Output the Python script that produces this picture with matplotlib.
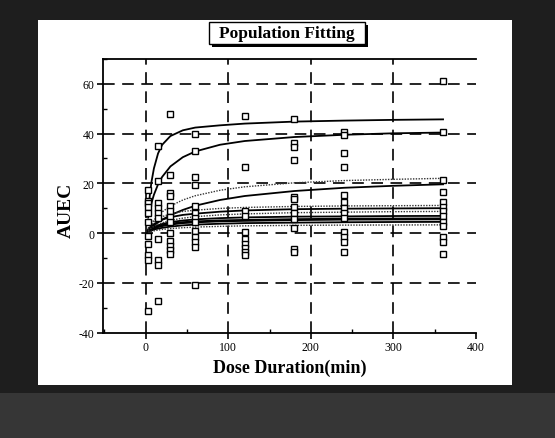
import matplotlib
matplotlib.use('Agg')
import matplotlib.pyplot as plt
from matplotlib.patches import Rectangle
from matplotlib.ticker import MultipleLocator

plt.rcParams['axes.unicode_minus'] = False

# ---------------- data ----------------
# observed AUEC at each dose duration (min)
obs_times = [3, 15, 30, 60, 120, 180, 240, 360]
auec_t3 = [17.5, 13, 12, 10.5, 8, 4.5, -1, -4.5, -9, -11, -31.5]
auec_t15 = [35, 21, 12, 10, 8, 6, -2.5, -11, -13, -27.5]
auec_t30 = [48, 23.5, 16, 15, 11, 9, 6.5, 4.5, 0, -3, -5, -7, -8.5]
auec_t60 = [40, 33, 22.5, 19.5, 11, 8, 6, 4.5, 1, -1.5, -3.5, -5.5, -21]
auec_t120 = [47, 26.5, 9, 7, 0.5, -2.5, -4.5, -6, -7.5, -9]
auec_t180 = [46, 36, 34.5, 29.5, 14.5, 13.5, 10.5, 8, 5.5, 2, -6.5, -7.5]
auec_t240 = [40.5, 39.5, 32, 26.5, 15.5, 12.5, 10, 8, 6, 0.5, -1.5, -3.5, -7.5]
auec_t360 = [61, 40.5, 21.5, 16.5, 12.5, 10.5, 9, 7, 4.5, 3, -1.5, -3.5, -8.5]
obs_auec = [auec_t3, auec_t15, auec_t30, auec_t60, auec_t120, auec_t180, auec_t240, auec_t360]

# fitted population curves, read at these times
fit_t = [3, 5, 7, 10, 15, 20, 30, 45, 60, 90, 120, 180, 240, 300, 360]
fit_a = [9, 15, 20.5, 26, 32, 35.5, 39, 41.3, 42.4, 43.3, 44, 44.8, 45.2, 45.5, 45.7]
fit_b = [6.2, 9.4, 12.1, 15.4, 19.6, 22.6, 26.8, 30.5, 32.8, 35.5, 37, 38.6, 39.5, 40.1, 40.4]
fit_c = [1.0, 1.6, 2.2, 3.0, 4.3, 5.4, 7.2, 9.3, 11, 13.3, 14.9, 16.9, 18.2, 19.0, 19.6]
fit_d = [1.8, 2.9, 3.9, 5.2, 7.0, 8.5, 10.9, 13.3, 15.0, 17.2, 18.6, 20.2, 21.1, 21.6, 22.0]
fit_e = [1.9, 2.9, 3.6, 4.6, 5.7, 6.6, 7.7, 8.7, 9.2, 9.9, 10.3, 10.7, 10.9, 11.0, 11.1]
fit_f = [1.5, 2.2, 2.9, 3.6, 4.6, 5.4, 6.4, 7.3, 7.8, 8.6, 9.1, 9.6, 9.8, 9.9, 10.0]
fit_g = [1.0, 1.6, 2.1, 2.7, 3.5, 4.1, 5.1, 6.0, 6.6, 7.3, 7.7, 8.2, 8.4, 8.6, 8.7]
fit_h = [0.95, 1.5, 1.9, 2.4, 3.1, 3.65, 4.4, 5.05, 5.5, 6.0, 6.3, 6.6, 6.7, 6.85, 6.9]
fit_i = [0.8, 1.2, 1.6, 2.0, 2.6, 3.0, 3.6, 4.2, 4.5, 4.9, 5.1, 5.4, 5.6, 5.65, 5.7]
fit_j = [0.5, 0.8, 1.05, 1.4, 1.8, 2.1, 2.6, 3.1, 3.4, 3.75, 4.0, 4.2, 4.35, 4.45, 4.5]
fit_k = [0.33, 0.5, 0.7, 0.9, 1.2, 1.45, 1.8, 2.15, 2.4, 2.7, 2.9, 3.1, 3.2, 3.25, 3.3]

solid_fits = [fit_a, fit_b, fit_c, fit_f, fit_h, fit_j]
thick_fits = [fit_i]
dotted_fits = [fit_d, fit_e, fit_g, fit_k]

x_ticks = [0, 100, 200, 300, 400]
y_ticks = [-40, -20, 0, 20, 40, 60]
title = 'Population Fitting'
x_label = 'Dose Duration(min)'
y_label = 'AUEC'

# ---------------- figure ----------------
W, H = 555, 439
SERIF = ['Liberation Serif', 'DejaVu Serif']
fig = plt.figure(figsize=(W / 100, H / 100), dpi=100)
fig.patch.set_facecolor('#1e1e1e')

bg = fig.add_axes([0, 0, 1, 1])
bg.set_xlim(0, W)
bg.set_ylim(H, 0)
bg.axis('off')
bg.add_patch(Rectangle((0, 394), W, 45, facecolor='#363636', edgecolor='none'))
bg.add_patch(Rectangle((38, 21), 474, 365, facecolor='white', edgecolor='none'))
# title box with shadow
bg.add_patch(Rectangle((212, 26), 156, 22, facecolor='black', edgecolor='none'))
bg.add_patch(Rectangle((209, 23), 156, 22, facecolor='white', edgecolor='black', lw=1.0))
bg.text(287, 34.5, title, ha='center', va='center', fontsize=12.5,
        fontweight='bold', family=SERIF)
bg.text(290, 368, x_label, ha='center', va='center', fontsize=13,
        fontweight='bold', family=SERIF)
bg.text(66, 210, y_label, ha='center', va='center', fontsize=14, rotation=90,
        fontweight='bold', family=SERIF)

ax = fig.add_axes([102.7 / W, 1 - 333.6 / H, (476.1 - 102.7) / W, (333.6 - 59.9) / H])
ax.set_facecolor('white')
ax.set_xlim(-52, 400)
ax.set_ylim(-40, 70)
ax.spines['right'].set_visible(False)
for s in ['left', 'bottom', 'top']:
    ax.spines[s].set_linewidth(1.3)

ax.set_xticks(x_ticks)
ax.set_yticks(y_ticks)
ax.xaxis.set_minor_locator(MultipleLocator(50))
ax.yaxis.set_minor_locator(MultipleLocator(10))
ax.tick_params(which='major', direction='out', length=4, width=1.2, labelsize=8.5, pad=2)
ax.tick_params(which='minor', direction='in', length=3, width=1.0)
ax.tick_params(top=False, which='both')
for lab in ax.get_xticklabels() + ax.get_yticklabels():
    lab.set_family(SERIF)

# dashed grid
for gx in x_ticks[:-1]:
    ax.axvline(gx, color='black', lw=1.2, dashes=(7, 4.5), zorder=1)
for gy in y_ticks[1:]:
    ax.axhline(gy, color='black', lw=1.2, dashes=(7, 4.5), zorder=1)

# fitted curves
for f in solid_fits:
    ax.plot(fit_t, f, color='black', lw=1.3, zorder=3)
for f in thick_fits:
    ax.plot(fit_t, f, color='black', lw=2.0, zorder=3)
for f in dotted_fits:
    ax.plot(fit_t, f, color='#333333', lw=1.0, ls=(0, (1, 1)), zorder=3)

# observations
for t, vals in zip(obs_times, obs_auec):
    ax.plot([t] * len(vals), vals, ls='none', marker='s', ms=4.2, mfc='white',
            mec='black', mew=1.0, zorder=4)

fig.savefig('out.png', dpi=100, facecolor=fig.get_facecolor())
